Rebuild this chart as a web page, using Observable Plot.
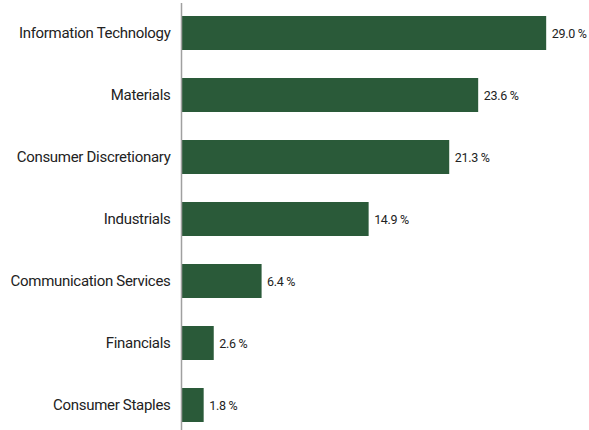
<!DOCTYPE html>
<html>
<head>
<meta charset="utf-8">
<script src="https://cdn.jsdelivr.net/npm/d3@7"></script>
<script src="https://cdn.jsdelivr.net/npm/@observablehq/plot@0.6"></script>
<style>
  body { margin: 0; background: #fff; }
  #chart svg text { letter-spacing: -0.3px; }
</style>
</head>
<body>
<div id="chart"></div>
<script>
const sectors = ["Information Technology", "Materials", "Consumer Discretionary", "Industrials", "Communication Services", "Financials", "Consumer Staples"];
const weights = [29.0, 23.6, 21.3, 14.9, 6.4, 2.6, 1.8];

const data = sectors.map((s, i) => ({sector: s, value: weights[i]}));

const chart = Plot.plot({
  width: 589,
  height: 430,
  marginLeft: 181,
  marginRight: 0,
  marginTop: 3,
  marginBottom: 0,
  style: {fontFamily: 'Roboto, "Liberation Sans", sans-serif', background: "#fff"},
  x: {domain: [0, 32.4], axis: null},
  y: {domain: sectors, range: [8.4, 430], paddingInner: 0.455, paddingOuter: 0.1, label: null},
  marks: [
    Plot.barX(data, {x: "value", y: "sector", fill: "#2a5a39"}),
    Plot.ruleX([0], {stroke: "#a0a0a0", strokeWidth: 1.5}),
    Plot.axisY({tickSize: 0, tickPadding: 11, fontSize: 15, fill: "#222", label: null}),
    Plot.text(data, {x: "value", y: "sector", text: d => d.value.toFixed(1) + " %", textAnchor: "start", dx: 5, fontSize: 12.5, fill: "#222"})
  ]
});
document.getElementById("chart").appendChild(chart);
</script>
</body>
</html>
